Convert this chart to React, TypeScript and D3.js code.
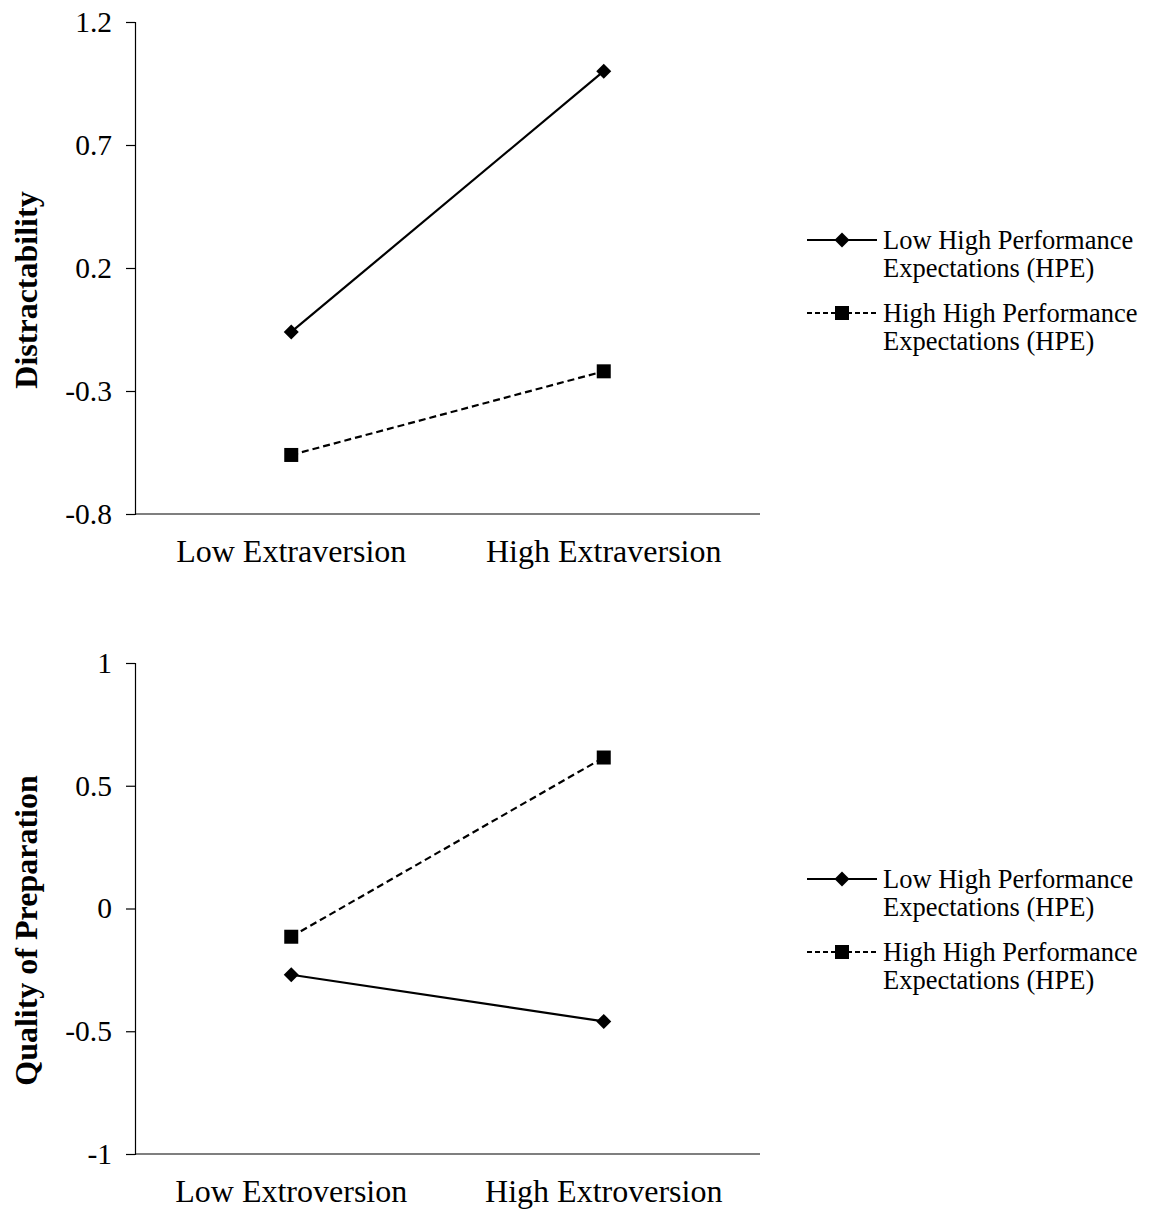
import React, { useRef, useEffect } from "react"
import * as d3 from "d3"

// top panel
const extraCats = ["Low Extraversion", "High Extraversion"]
const distractLowHPE = [-0.06, 1.0]
const distractHighHPE = [-0.56, -0.22]
const distractTicks = [-0.8, -0.3, 0.2, 0.7, 1.2]

// bottom panel
const extroCats = ["Low Extroversion", "High Extroversion"]
const prepLowHPE = [-0.27, -0.46]
const prepHighHPE = [-0.115, 0.615]
const prepTicks = [-1, -0.5, 0, 0.5, 1]

const legendNames = [
    ["Low High Performance", "Expectations (HPE)"],
    ["High High Performance", "Expectations (HPE)"],
]

const FONT = "'Liberation Serif', 'Times New Roman', serif"

function drawPanel(svg, opts) {
    const { top, bottom, cats, ticks, series, title, legendY } = opts
    const left = 135
    const right = 760
    const g = svg.append("g")

    const x = d3.scaleBand().domain(cats).range([left, right])
    const y = d3
        .scaleLinear()
        .domain([ticks[0], ticks[ticks.length - 1]])
        .range([bottom, top])

    // y axis
    const yAxis = g
        .append("g")
        .attr("transform", `translate(${left},0)`)
        .call(
            d3
                .axisLeft(y)
                .tickValues(ticks)
                .tickSize(9)
                .tickPadding(14)
                .tickFormat((d) => String(d))
        )
    yAxis.select(".domain").attr("stroke", "#000").attr("stroke-width", 1.2)
    yAxis.selectAll(".tick line").attr("stroke", "#000").attr("stroke-width", 1.2)
    yAxis
        .selectAll(".tick text")
        .attr("font-family", FONT)
        .attr("font-size", 29.5)
        .attr("fill", "#000")

    // x axis line
    g.append("line")
        .attr("x1", left)
        .attr("x2", right)
        .attr("y1", bottom)
        .attr("y2", bottom)
        .attr("stroke", "#000")
        .attr("stroke-width", 1.2)

    g.selectAll("text.cat")
        .data(cats)
        .enter()
        .append("text")
        .attr("class", "cat")
        .attr("x", (d) => x(d) + x.bandwidth() / 2)
        .attr("y", bottom + 48)
        .attr("text-anchor", "middle")
        .attr("font-family", FONT)
        .attr("font-size", 32)
        .text((d) => d)

    // y title
    g.append("text")
        .attr(
            "transform",
            `translate(37,${(top + bottom) / 2 + 22}) rotate(-90)`
        )
        .attr("text-anchor", "middle")
        .attr("font-family", FONT)
        .attr("font-weight", "bold")
        .attr("font-size", 32)
        .text(title)

    const line = d3
        .line()
        .x((d, i) => x(cats[i]) + x.bandwidth() / 2)
        .y((d) => y(d))

    series.forEach((s) => {
        g.append("path")
            .datum(s.values)
            .attr("d", line)
            .attr("fill", "none")
            .attr("stroke", "#000")
            .attr("stroke-width", 2.2)
            .attr("stroke-dasharray", s.dashed ? "7,4" : null)
        s.values.forEach((v, i) => {
            const cx = x(cats[i]) + x.bandwidth() / 2
            const cy = y(v)
            drawMarker(g, s.marker, cx, cy)
        })
    })

    // legend
    series.forEach((s, k) => {
        const ly = legendY + k * 73
        g.append("line")
            .attr("x1", 807)
            .attr("x2", 877)
            .attr("y1", ly)
            .attr("y2", ly)
            .attr("stroke", "#000")
            .attr("stroke-width", 2)
            .attr("stroke-dasharray", s.dashed ? "5,3" : null)
        drawMarker(g, s.marker, 842, ly)
        const t = g
            .append("text")
            .attr("font-family", FONT)
            .attr("font-size", 26.5)
        legendNames[s.legend].forEach((ln, j) => {
            t.append("tspan")
                .attr("x", 883)
                .attr("y", ly + 9 + j * 28)
                .text(ln)
        })
    })
}

function drawMarker(g, kind, cx, cy) {
    if (kind === "diamond") {
        const r = 7.5
        g.append("path")
            .attr(
                "d",
                `M${cx},${cy - r}L${cx + r},${cy}L${cx},${cy + r}L${cx - r},${cy}Z`
            )
            .attr("fill", "#000")
    } else {
        const s = 14
        g.append("rect")
            .attr("x", cx - s / 2)
            .attr("y", cy - s / 2)
            .attr("width", s)
            .attr("height", s)
            .attr("fill", "#000")
    }
}

export default function App() {
    const ref = useRef(null)

    useEffect(() => {
        const svg = d3.select(ref.current)
        svg.selectAll("*").remove()

        drawPanel(svg, {
            top: 22,
            bottom: 514,
            cats: extraCats,
            ticks: distractTicks,
            title: "Distractability",
            legendY: 240,
            series: [
                { values: distractLowHPE, marker: "diamond", dashed: false, legend: 0 },
                { values: distractHighHPE, marker: "square", dashed: true, legend: 1 },
            ],
        })

        drawPanel(svg, {
            top: 663,
            bottom: 1154,
            cats: extroCats,
            ticks: prepTicks,
            title: "Quality of Preparation",
            legendY: 879,
            series: [
                { values: prepLowHPE, marker: "diamond", dashed: false, legend: 0 },
                { values: prepHighHPE, marker: "square", dashed: true, legend: 1 },
            ],
        })
    }, [])

    return (
        <svg
            ref={ref}
            width={1150}
            height={1209}
            style={{ position: "absolute", left: 0, top: 0, background: "#fff" }}
        />
    )
}
